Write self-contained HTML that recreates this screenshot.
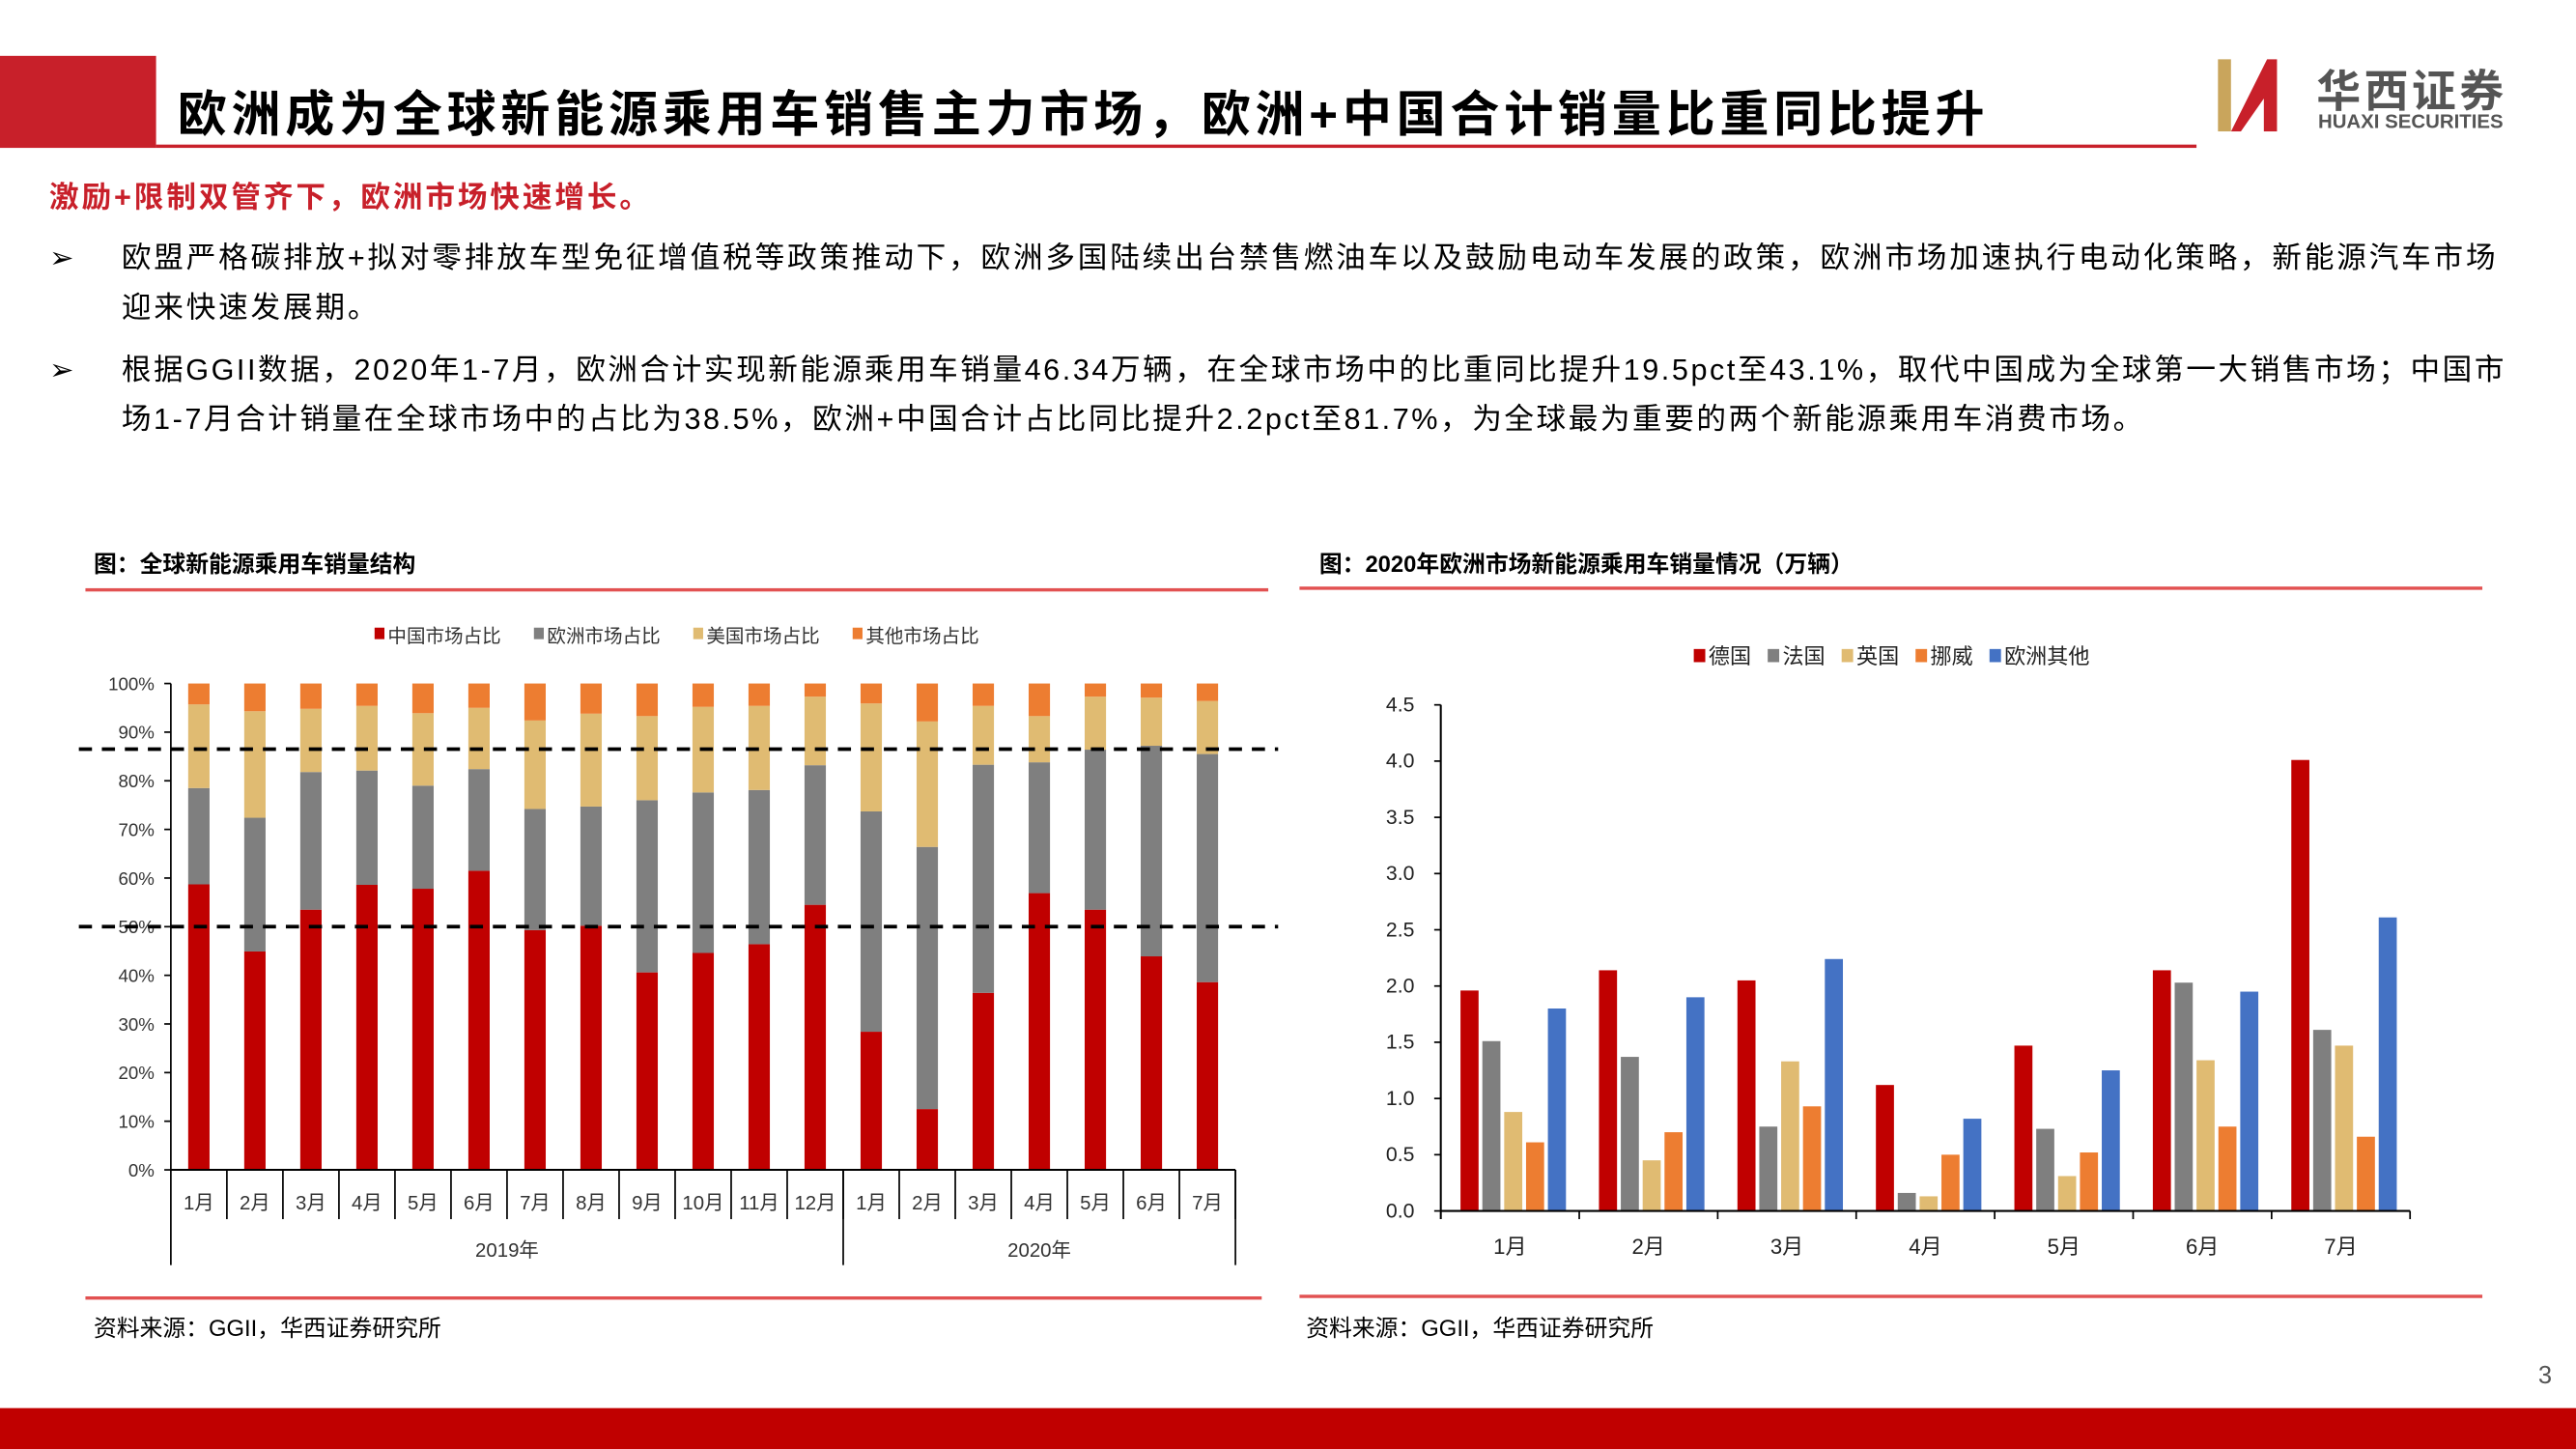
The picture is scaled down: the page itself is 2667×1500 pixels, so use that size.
<!DOCTYPE html>
<html><head><meta charset="utf-8"><style>
html,body{margin:0;padding:0;background:#fff;}
body{width:2667px;height:1500px;overflow:hidden;position:relative;}
#s{position:absolute;left:0;top:0;width:1568px;height:882px;transform:scale(1.70089);transform-origin:0 0;font-family:"Liberation Sans","Noto Sans CJK SC",sans-serif;color:#000;}
.a{position:absolute;white-space:nowrap;}
</style></head><body>
<div id="s">
<div class="a" style="left:0;top:34px;width:95px;height:56px;background:#c8202a"></div>
<div class="a" style="left:95px;top:88px;width:1242px;height:2px;background:#c8202a"></div>
<div class="a" style="left:108px;top:45px;font-size:30px;font-weight:bold;letter-spacing:2.8px">欧洲成为全球新能源乘用车销售主力市场，欧洲+中国合计销量比重同比提升</div>
<div class="a" style="left:1350px;top:36px;width:42px;height:44px">
<svg width="42" height="44"><rect x="0" y="0" width="8" height="44" fill="#c9a55c"/><polygon points="8,44 30,0 36,0 36,44 28,44 28,24 14,44" fill="#c8202a"/></svg></div>
<div class="a" style="left:1410px;top:34px;font-size:27px;font-weight:bold;color:#555;letter-spacing:2px">华西证券</div>
<div class="a" style="left:1411px;top:67px;font-size:12px;font-weight:bold;color:#555">HUAXI SECURITIES</div>
<div class="a" style="left:30px;top:106px;font-size:18px;font-weight:bold;color:#c8202a;letter-spacing:1.7px">激励+限制双管齐下，欧洲市场快速增长。</div>
<div class="a" style="left:30px;top:142px;font-size:18px;line-height:30px;letter-spacing:1.65px">
<span style="position:absolute;left:0">➢</span><div style="margin-left:44px">欧盟严格碳排放+拟对零排放车型免征增值税等政策推动下，欧洲多国陆续出台禁售燃油车以及鼓励电动车发展的政策，欧洲市场加速执行电动化策略，新能源汽车市场<br>迎来快速发展期。</div></div>
<div class="a" style="left:30px;top:210px;font-size:18px;line-height:30px;letter-spacing:1.5px">
<span style="position:absolute;left:0">➢</span><div style="margin-left:44px">根据GGII数据，2020年1-7月，欧洲合计实现新能源乘用车销量46.34万辆，在全球市场中的比重同比提升19.5pct至43.1%，取代中国成为全球第一大销售市场；中国市<br>场1-7月合计销量在全球市场中的占比为38.5%，欧洲+中国合计占比同比提升2.2pct至81.7%，为全球最为重要的两个新能源乘用车消费市场。</div></div>

<div class="a" style="left:57px;top:333px;font-size:14px;font-weight:bold">图：全球新能源乘用车销量结构</div>
<div class="a" style="left:52px;top:358px;width:720px;height:2px;background:#d33;opacity:.85"></div>
<div class="a" style="left:803px;top:333px;font-size:14px;font-weight:bold">图：2020年欧洲市场新能源乘用车销量情况（万辆）</div>
<div class="a" style="left:791px;top:357px;width:720px;height:2px;background:#d33;opacity:.85"></div>
<div class="a" style="left:52px;top:789px;width:716px;height:2px;background:#d33;opacity:.85"></div>
<div class="a" style="left:791px;top:788px;width:720px;height:2px;background:#d33;opacity:.85"></div>
<div class="a" style="left:57px;top:798px;font-size:14px">资料来源：GGII，华西证券研究所</div>
<div class="a" style="left:795px;top:798px;font-size:14px">资料来源：GGII，华西证券研究所</div>
<div class="a" style="left:1545px;top:829px;font-size:15px;color:#555">3</div>
<div class="a" style="left:0;top:857px;width:1568px;height:25px;background:#c00000"></div>

<svg class="a" id="lc" style="left:0;top:370px" width="790" height="420"></svg>
<svg class="a" id="rc" style="left:790px;top:370px" width="778" height="420"></svg>
</div>
<script>
const shareMonths=["1月","2月","3月","4月","5月","6月","7月","8月","9月","10月","11月","12月","1月","2月","3月","4月","5月","6月","7月"];
const chinaShare=[58.7,44.9,53.5,58.6,57.8,61.5,49.3,50.2,40.6,44.6,46.4,54.5,28.4,12.5,36.4,56.9,53.5,43.9,38.6];
const europeShare=[19.8,27.5,28.3,23.5,21.2,20.9,24.9,24.5,35.4,33.0,31.7,28.7,45.3,53.9,46.9,26.9,32.9,43.3,46.9];
const usShare=[17.2,21.9,13.0,13.3,14.9,12.6,18.2,19.1,17.3,17.6,17.3,14.1,22.2,25.8,12.1,9.5,10.9,9.9,10.9];
const otherShare=[4.3,5.7,5.2,4.6,6.1,5.0,7.6,6.2,6.7,4.8,4.6,2.7,4.1,7.8,4.6,6.7,2.7,2.9,3.6];
const shareTicks=[0,10,20,30,40,50,60,70,80,90,100];
const refLines=[86.5,50];
const salesMonths=["1月","2月","3月","4月","5月","6月","7月"];
const germany=[1.96,2.14,2.05,1.12,1.47,2.14,4.01];
const france=[1.51,1.37,0.75,0.16,0.73,2.03,1.61];
const uk=[0.88,0.45,1.33,0.13,0.31,1.34,1.47];
const norway=[0.61,0.70,0.93,0.50,0.52,0.75,0.66];
const otherEurope=[1.80,1.90,2.24,0.82,1.25,1.95,2.61];
const salesTicks=[0,0.5,1.0,1.5,2.0,2.5,3.0,3.5,4.0,4.5];
const NS="http://www.w3.org/2000/svg";
function mk(p,t,at){const e=document.createElementNS(NS,t);for(const k in at)e.setAttribute(k,at[k]);p.appendChild(e);return e;}
const L=document.getElementById('lc');
const lx0=104,lx1=752,ly0=712-370,ly1=416-370;
const lcw=(lx1-lx0)/shareMonths.length;
const ly=v=>ly0-(ly0-ly1)*v/100;
const lcx=i=>lx0+lcw*(i+0.5);
const shareSeries=[[chinaShare,"#c00000","中国市场占比"],[europeShare,"#7f7f7f","欧洲市场占比"],[usShare,"#e0bb72","美国市场占比"],[otherShare,"#ed7d31","其他市场占比"]];
shareTicks.forEach(t=>{const tx=mk(L,'text',{x:lx0-10,y:ly(t)+4,'text-anchor':'end','font-size':11,fill:'#333'});tx.textContent=t+'%';

});
shareMonths.forEach((m,i)=>{let base=0;shareSeries.forEach(([arr,c])=>{const v=arr[i];const r=mk(L,'rect',{x:lcx(i)-6.5,y:ly(base+v),width:13,height:ly(base)-ly(base+v),fill:c});


base+=v;});
const tx=mk(L,'text',{x:lcx(i),y:ly0+24,'text-anchor':'middle','font-size':12,fill:'#333'});tx.textContent=m;


mk(L,'line',{x1:lx0+lcw*(i+1),x2:lx0+lcw*(i+1),y1:ly0,y2:ly0+30,stroke:'#000','stroke-width':1});});
mk(L,'line',{x1:lx0,x2:lx0,y1:ly1,y2:ly0+58,stroke:'#000','stroke-width':1});
mk(L,'line',{x1:lx0,x2:lx1,y1:ly0,y2:ly0,stroke:'#000','stroke-width':1.2});
mk(L,'line',{x1:lx0+lcw*12,x2:lx0+lcw*12,y1:ly0,y2:ly0+58,stroke:'#000','stroke-width':1});
mk(L,'line',{x1:lx1,x2:lx1,y1:ly0,y2:ly0+58,stroke:'#000','stroke-width':1});
shareTicks.forEach(t=>mk(L,'line',{x1:lx0-4,x2:lx0,y1:ly(t),y2:ly(t),stroke:'#000'}));
[["2019年",lx0+lcw*6],["2020年",lx0+lcw*15.5]].forEach(([s,x])=>{const tx=mk(L,'text',{x:x,y:ly0+53,'text-anchor':'middle','font-size':12,fill:'#333'});tx.textContent=s;

});
refLines.forEach(v=>{const l=mk(L,'line',{x1:48,x2:778,y1:ly(v),y2:ly(v),stroke:'#000','stroke-width':2.2,'stroke-dasharray':'8,6'});

});
let lgx=228;shareSeries.forEach(([a,c,n])=>{mk(L,'rect',{x:lgx,y:12,width:6,height:7,fill:c});const tx=mk(L,'text',{x:lgx+8,y:21,'font-size':11.5,fill:'#333'});tx.textContent=n;

lgx+=97;});
const R=document.getElementById('rc');
const rx0=877-790,rx1=1467-790,ry0=737-370,ry1=429-370;
const rgw=(rx1-rx0)/salesMonths.length;
const ry=v=>ry0-(ry0-ry1)*v/4.5;
const salesSeries=[[germany,"#c00000","德国"],[france,"#7f7f7f","法国"],[uk,"#e0bb72","英国"],[norway,"#ed7d31","挪威"],[otherEurope,"#4472c4","欧洲其他"]];
salesTicks.forEach(t=>{const tx=mk(R,'text',{x:rx0-16,y:ry(t)+4,'text-anchor':'end','font-size':12.5,fill:'#222'});tx.textContent=t.toFixed(1);


mk(R,'line',{x1:rx0-4,x2:rx0,y1:ry(t),y2:ry(t),stroke:'#000'});});
salesMonths.forEach((m,i)=>{salesSeries.forEach(([arr,c],j)=>{const r=mk(R,'rect',{x:rx0+rgw*i+12+j*13.3,y:ry(arr[i]),width:11,height:ry0-ry(arr[i]),fill:c});

});
const tx=mk(R,'text',{x:rx0+rgw*(i+0.5),y:ry0+26,'text-anchor':'middle','font-size':13,fill:'#222'});tx.textContent=m;


mk(R,'line',{x1:rx0+rgw*(i+1),x2:rx0+rgw*(i+1),y1:ry0,y2:ry0+5,stroke:'#000'});});
mk(R,'line',{x1:rx0,x2:rx0,y1:ry1,y2:ry0+5,stroke:'#000','stroke-width':1.2});
mk(R,'line',{x1:rx0,x2:rx1,y1:ry0,y2:ry0,stroke:'#000','stroke-width':1.2});
let rgx=241;salesSeries.forEach(([a,c,n])=>{mk(R,'rect',{x:rgx,y:25,width:7,height:8,fill:c});const tx=mk(R,'text',{x:rgx+9,y:34,'font-size':13,fill:'#222'});tx.textContent=n;

rgx+=n.length*13+19;});
</script>
</body></html>
